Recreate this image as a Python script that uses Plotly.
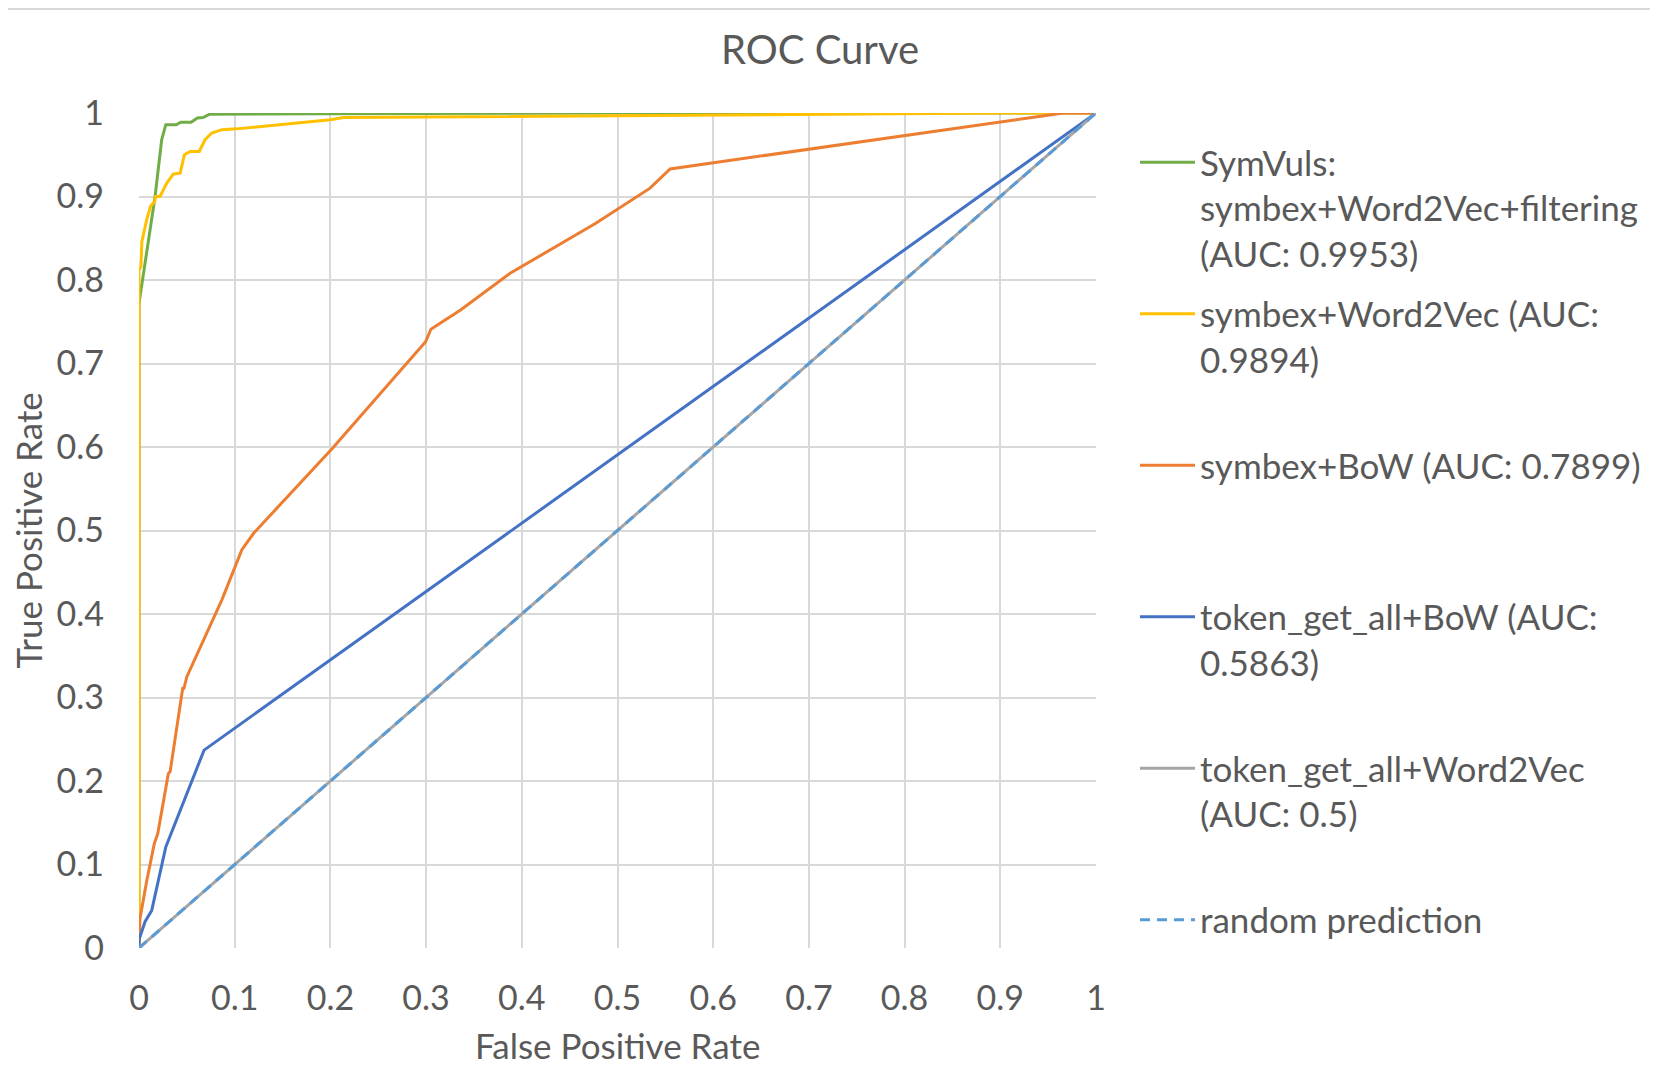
import plotly.graph_objects as go

# ---- data ----
green_x = [0, 0, 0.005, 0.0115, 0.0168, 0.0237, 0.028, 0.039, 0.0436, 0.0545, 0.061, 0.067, 0.0736, 0.2, 0.5, 1]
green_y = [0, 0.772, 0.81, 0.86, 0.90, 0.968, 0.986, 0.986, 0.989, 0.989, 0.994, 0.9945, 0.9985, 0.999, 1.0, 1]

yellow_x = [0, 0, 0.002, 0.003, 0.008, 0.012, 0.0164, 0.0175, 0.022, 0.029, 0.036, 0.043, 0.0475, 0.0534,
            0.063, 0.069, 0.076, 0.0866, 0.102, 0.2, 0.2136, 0.5, 0.9, 1]
yellow_y = [0, 0.812, 0.816, 0.846, 0.872, 0.888, 0.894, 0.90, 0.90, 0.916, 0.927, 0.928, 0.95, 0.954,
            0.954, 0.968, 0.976, 0.98, 0.981, 0.992, 0.9945, 0.997, 1.0, 1]

orange_x = [0, 0.001, 0.008, 0.016, 0.0196, 0.0307, 0.0325, 0.0457, 0.047, 0.05, 0.0866, 0.1075, 0.12,
            0.2017, 0.2995, 0.3025, 0.305, 0.336, 0.3878, 0.4773, 0.534, 0.555, 0.966, 1]
orange_y = [0, 0.035, 0.08, 0.125, 0.137, 0.209, 0.211, 0.311, 0.311, 0.325, 0.417, 0.477, 0.497,
            0.598, 0.726, 0.735, 0.741, 0.764, 0.808, 0.868, 0.91, 0.933, 1.0, 1]

blue_x = [0, 0, 0.0063, 0.0133, 0.028, 0.068, 1]
blue_y = [0, 0.01, 0.0315, 0.045, 0.121, 0.237, 1]

gray_x = [0, 1]
gray_y = [0, 1]

random_x = [0, 1]
random_y = [0, 1]

series_names = [
    "SymVuls:<br>symbex+Word2Vec+filtering<br>(AUC: 0.9953)",
    "symbex+Word2Vec (AUC:<br>0.9894)<br> ",
    "symbex+BoW (AUC: 0.7899)<br> <br> ",
    "token_get_all+BoW (AUC:<br>0.5863)<br> ",
    "token_get_all+Word2Vec<br>(AUC: 0.5)<br> ",
    "random prediction",
]

tick_vals = [0, 0.1, 0.2, 0.3, 0.4, 0.5, 0.6, 0.7, 0.8, 0.9, 1]
tick_text = ["0", "0.1", "0.2", "0.3", "0.4", "0.5", "0.6", "0.7", "0.8", "0.9", "1"]

# ---- styling ----
FONT = "Lato"
TXT = "#595959"
GRID = "#D9D9D9"
colors = ["#70AD47", "#FFC000", "#ED7D31", "#4472C4", "#A5A5A5", "#5B9BD5"]
# page body has an 8px margin, so the figure is a little smaller than the window
W, H = 1650, 1059
L, R, T, B = 131, 562, 105, 119
PW, PH = W - L - R, H - T - B

xs = [green_x, yellow_x, orange_x, blue_x, gray_x, random_x]
ys = [green_y, yellow_y, orange_y, blue_y, gray_y, random_y]

fig = go.Figure()
for i, (x, y) in enumerate(zip(xs, ys)):
    fig.add_trace(go.Scatter(
        x=x, y=y, mode="lines", name=series_names[i],
        legendgroup=f"g{i}",
        line=dict(color=colors[i], width=3, dash=("10px,7px" if i == 5 else "solid")),
        hoverinfo="skip",
    ))

axis_common = dict(
    range=[0, 1], tickvals=tick_vals, ticktext=tick_text,
    showgrid=True, gridcolor=GRID, gridwidth=2,
    zeroline=False, showline=False,
    tickfont=dict(family=FONT, size=34, color=TXT),
    ticks="", fixedrange=True,
)

fig.update_layout(
    width=W, height=H,
    margin=dict(l=L, r=R, t=T, b=B, autoexpand=False),
    paper_bgcolor="white", plot_bgcolor="white",
    showlegend=True,
    title=dict(text="ROC Curve", x=812 / W, xref="container", xanchor="center",
               y=1 - 42 / H, yref="container", yanchor="middle",
               font=dict(family=FONT, size=40, color=TXT)),
    xaxis=dict(**axis_common, ticklabelstandoff=27),
    yaxis=dict(**axis_common, ticklabelstandoff=34),
    legend=dict(
        x=(1127 - L) / PW, xanchor="left",
        y=(PH - 20) / PH, yanchor="top",
        font=dict(family=FONT, size=35, color=TXT),
        valign="top", traceorder="grouped", tracegroupgap=12,
        itemwidth=55, bgcolor="rgba(0,0,0,0)", borderwidth=0,
        maxheight=1.0,
    ),
    shapes=[dict(type="line", xref="paper", yref="paper",
                 x0=-L / PW, x1=(W - L) / PW,
                 y0=(PH + T - 1) / PH, y1=(PH + T - 1) / PH,
                 line=dict(color=GRID, width=2))],
    annotations=[
        dict(text="False Positive Rate", xref="paper", yref="paper",
             x=0.5, y=-(1037 - (H - B)) / PH, xanchor="center", yanchor="middle",
             showarrow=False, borderpad=0, font=dict(family=FONT, size=35, color=TXT)),
        dict(text="True Positive Rate", xref="paper", yref="paper", textangle=-90,
             x=-(L - 19) / PW, y=0.5, xanchor="center", yanchor="middle",
             showarrow=False, font=dict(family=FONT, size=35, color=TXT)),
    ],
)

fig.write_html("out.html")
